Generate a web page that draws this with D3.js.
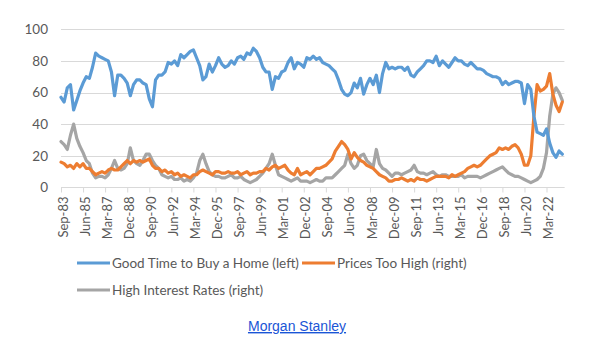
<!DOCTYPE html>
<html>
<head>
<meta charset="utf-8">
<script src="https://cdn.jsdelivr.net/npm/d3@7"></script>
<style>
    body { margin: 0; background: #fff; }
    svg text { font-family: Lato, "Noto Sans", sans-serif; }
    .link { font-family: "Liberation Sans", Arial, sans-serif !important; }
</style>
</head>
<body>
<div id="chart"></div>
<script>

// quarterly readings, first point Sep-83, one value every 3 months
let startMonth = "1983-09";
let stepMonths = 3;

let goodTime = [57, 54, 63, 65, 49, 55, 61, 66, 70, 69, 76, 85, 83, 82, 81, 80, 73, 58, 71, 71,
    69, 66, 58, 65, 68, 68, 66, 65, 56, 51, 68, 71, 71, 73, 79, 78, 80, 77, 84, 82,
    84, 86, 87, 82, 77, 68, 70, 78, 73, 77, 82, 78, 76, 77, 80, 78, 82, 83, 81, 85,
    84, 88, 86, 82, 76, 73, 73, 62, 70, 69, 73, 74, 79, 82, 75, 79, 78, 76, 82, 81,
    83, 81, 82, 79, 78, 77, 75, 73, 68, 62, 59, 58, 60, 66, 63, 69, 59, 65, 69, 65,
    71, 60, 72, 79, 75, 76, 75, 76, 76, 74, 76, 71, 70, 73, 75, 77, 80, 80, 79, 83,
    77, 80, 78, 76, 79, 82, 80, 80, 78, 77, 79, 77, 75, 75, 74, 72, 71, 70, 70, 69,
    65, 67, 65, 66, 67, 67, 66, 53, 65, 62, 45, 35, 34, 33, 37, 28, 22, 19, 23, 21];

let pricesHigh = [16, 15, 13, 14, 12, 15, 13, 15, 12, 12, 10, 8, 9, 10, 9, 11, 12, 11, 11, 13,
    15, 17, 15, 17, 16, 17, 16, 17, 18, 14, 12, 12, 10, 11, 9, 10, 8, 9, 7, 8,
    7, 6, 8, 8, 10, 11, 10, 9, 8, 10, 10, 9, 9, 10, 9, 9, 10, 8, 9, 10,
    8, 9, 9, 10, 10, 12, 11, 13, 14, 12, 13, 14, 11, 9, 8, 12, 8, 9, 10, 8,
    10, 12, 12, 13, 14, 16, 18, 23, 26, 29, 27, 24, 18, 22, 19, 17, 16, 14, 13, 12,
    10, 8, 7, 6, 4, 4, 5, 5, 6, 5, 4, 5, 4, 6, 5, 5, 4, 5, 6, 7,
    7, 7, 7, 6, 8, 7, 8, 9, 10, 12, 13, 14, 13, 14, 16, 18, 20, 21, 22, 25,
    24, 25, 24, 26, 27, 25, 21, 14, 14, 20, 45, 65, 61, 62, 64, 72, 59, 52, 48, 54];

let highRates = [29, 27, 24, 33, 40, 31, 26, 22, 17, 15, 9, 6, 7, 7, 6, 8, 12, 17, 12, 11,
    12, 15, 25, 17, 15, 14, 17, 21, 21, 17, 14, 12, 8, 7, 6, 7, 5, 5, 6, 4,
    5, 4, 6, 9, 17, 21, 15, 10, 8, 7, 7, 6, 6, 7, 8, 6, 6, 7, 5, 4,
    3, 4, 5, 7, 9, 12, 15, 21, 14, 8, 7, 6, 5, 4, 5, 6, 4, 4, 4, 3,
    4, 5, 4, 4, 6, 6, 6, 8, 10, 12, 14, 21, 15, 12, 14, 20, 21, 17, 15, 13,
    24, 15, 12, 11, 9, 7, 9, 9, 8, 9, 10, 11, 14, 10, 9, 9, 8, 9, 10, 8,
    7, 8, 8, 7, 7, 7, 7, 8, 6, 7, 7, 7, 7, 6, 7, 8, 9, 10, 11, 12,
    13, 11, 9, 8, 7, 7, 6, 5, 4, 3, 4, 5, 7, 12, 22, 45, 59, 63, 60, 55];

let tickLabels = ["Sep-83", "Jun-85", "Mar-87", "Dec-88", "Sep-90", "Jun-92", "Mar-94", "Dec-95",
    "Sep-97", "Jun-99", "Mar-01", "Dec-02", "Sep-04", "Jun-06", "Mar-08", "Dec-09",
    "Sep-11", "Jun-13", "Mar-15", "Dec-16", "Sep-18", "Jun-20", "Mar-22"];

let yTicks = [0, 20, 40, 60, 80, 100];

let seriesNames = ["Good Time to Buy a Home (left)", "Prices Too High (right)", "High Interest Rates (right)"];
let seriesColors = ["#5b9bd5", "#ed7d31", "#a5a5a5"];


let width = 600, height = 352;
let plot = {left: 61, right: 564.4, top: 29.3, bottom: 187.4};

let parseMonth = d3.timeParse("%Y-%m");
let parseTick = d3.timeParse("%b-%y");
let start = parseMonth(startMonth);
let dates = goodTime.map((d, i) => d3.timeMonth.offset(start, i * stepMonths));

let svg = d3.select("#chart").append("svg")
    .attr("width", width)
    .attr("height", height);

svg.append("rect").attr("width", width).attr("height", height).attr("fill", "#fff");

// scales
let x = d3.scaleTime()
    .domain([start, d3.timeMonth.offset(start, 479)])
    .range([plot.left, plot.right]);

let y = d3.scaleLinear()
    .domain([0, 100])
    .range([plot.bottom, plot.top]);

// gridlines
svg.append("g")
    .selectAll("line")
    .data(yTicks)
    .join("line")
    .attr("x1", plot.left)
    .attr("x2", plot.right)
    .attr("y1", d => Math.round(y(d)) + 0.5)
    .attr("y2", d => Math.round(y(d)) + 0.5)
    .attr("stroke", "#d9d9d9")
    .attr("stroke-width", 1);

// y labels
let yAxis = d3.axisLeft(y).tickValues(yTicks).tickSize(0).tickPadding(0);
let yAxisGroup = svg.append("g")
    .attr("transform", `translate(${plot.left - 13}, 0)`)
    .call(yAxis);
yAxisGroup.select(".domain").remove();
yAxisGroup.selectAll("text")
    .attr("fill", "#595959")
    .style("font-size", "13.5px");

// x axis
let xAxis = d3.axisBottom(x)
    .tickValues(tickLabels.map(parseTick))
    .tickFormat(d3.timeFormat("%b-%y"))
    .tickSize(5)
    .tickSizeOuter(0);

let xAxisGroup = svg.append("g")
    .attr("transform", `translate(0, ${Math.round(plot.bottom) + 0.5})`)
    .call(xAxis);
xAxisGroup.select(".domain")
    .attr("stroke", "#d9d9d9")
    .attr("d", `M${plot.left},0H${plot.right}`);
xAxisGroup.selectAll(".tick line").attr("stroke", "#d9d9d9");
xAxisGroup.selectAll(".tick text")
    .attr("fill", "#595959")
    .style("font-size", "13px")
    .attr("text-anchor", "end")
    .attr("transform", "translate(1.5, 9) rotate(-90)")
    .attr("x", 0)
    .attr("y", 0)
    .attr("dy", "0.35em");

// lines
let line = d3.line()
    .x(d => x(d.date))
    .y(d => y(d.value));

let allSeries = [goodTime, pricesHigh, highRates];

// draw order: gray under orange, blue on top
[2, 1, 0].forEach(k => {
    let rows = dates.map((date, i) => ({date: date, value: allSeries[k][i]}));
    svg.append("path")
        .datum(rows)
        .attr("fill", "none")
        .attr("stroke", seriesColors[k])
        .attr("stroke-width", 3.2)
        .attr("stroke-linejoin", "round")
        .attr("stroke-linecap", "round")
        .attr("d", line);
});

// legend
let legendPos = [{x: 77, y: 263}, {x: 302, y: 263}, {x: 77, y: 290}];
let legend = svg.append("g")
    .selectAll("g")
    .data(seriesNames)
    .join("g")
    .attr("transform", (d, i) => `translate(${legendPos[i].x}, ${legendPos[i].y})`);

legend.append("line")
    .attr("x1", 0)
    .attr("x2", 33)
    .attr("stroke", (d, i) => seriesColors[i])
    .attr("stroke-width", 3);

legend.append("text")
    .text(d => d)
    .attr("x", 35)
    .attr("dy", "0.35em")
    .attr("fill", "#595959")
    .style("font-size", "13.5px");

// source link
svg.append("text")
    .attr("class", "link")
    .text("Morgan Stanley")
    .attr("x", 297)
    .attr("y", 331)
    .attr("text-anchor", "middle")
    .attr("fill", "#1a55d6")
    .attr("text-decoration", "underline")
    .style("font-size", "14px");

</script>
</body>
</html>
